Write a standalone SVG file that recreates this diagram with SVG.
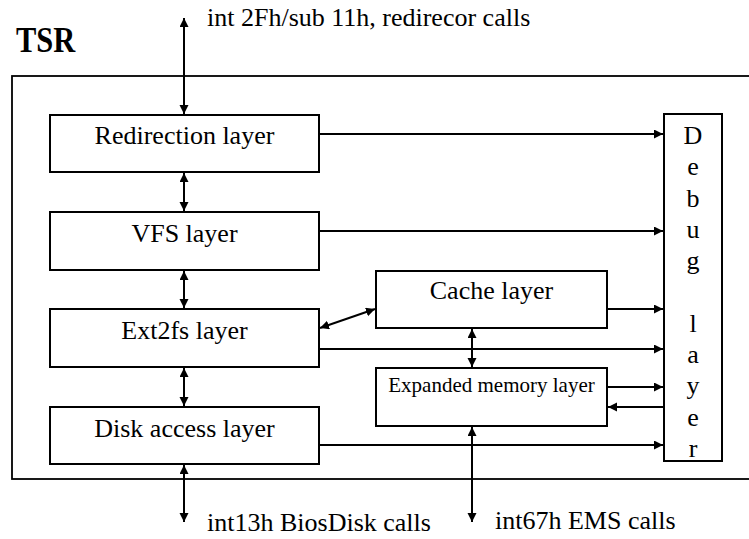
<svg xmlns="http://www.w3.org/2000/svg" width="749" height="539" viewBox="0 0 749 539">
  <style>
    .box { fill: #ffffff; stroke: #000000; stroke-width: 2; }
    .frame { fill: none; stroke: #000000; stroke-width: 1.8; }
    .lbl { font-family: "Liberation Serif", "Times New Roman", serif; font-size: 26px; fill: #000000; }
    .mid { text-anchor: middle; }
    .small { font-size: 21px; }
    .conn line { stroke: #000000; stroke-width: 2; }
    .one { marker-end: url(#head); }
    .two { marker-start: url(#head); marker-end: url(#head); }
  </style>
  <defs>
    <marker id="head" markerUnits="userSpaceOnUse" markerWidth="10" markerHeight="10" refX="9" refY="4.5" orient="auto-start-reverse">
      <path d="M0,0 L9,4.5 L0,9 z" fill="#000000"/>
    </marker>
  </defs>

  <!-- TSR frame -->
  <g id="tsr">
    <rect class="frame" x="12" y="76" width="750" height="403"/>
    <text transform="translate(16,52) scale(0.87,1)" font-family="Liberation Serif, Times New Roman, serif" font-size="35" font-weight="bold">TSR</text>
  </g>

  <!-- external interfaces -->
  <text class="lbl" x="207" y="26">int 2Fh/sub 11h, redirecor calls</text>
  <text class="lbl" x="207" y="531">int13h BiosDisk calls</text>
  <text class="lbl" x="495" y="529">int67h EMS calls</text>

  <!-- layers -->
  <g id="redirection">
    <rect class="box" x="50" y="115" width="269" height="57"/>
    <text class="lbl mid" x="184.5" y="144">Redirection layer</text>
  </g>
  <g id="vfs">
    <rect class="box" x="50" y="212" width="269" height="58"/>
    <text class="lbl mid" x="184.5" y="241.5">VFS layer</text>
  </g>
  <g id="ext2fs">
    <rect class="box" x="50" y="309" width="269" height="58"/>
    <text class="lbl mid" x="184.5" y="339">Ext2fs layer</text>
  </g>
  <g id="disk">
    <rect class="box" x="50" y="407" width="269" height="57"/>
    <text class="lbl mid" x="184.5" y="436.5">Disk access layer</text>
  </g>
  <g id="cache">
    <rect class="box" x="376" y="271" width="231" height="57"/>
    <text class="lbl mid" x="491.5" y="298.5">Cache layer</text>
  </g>
  <g id="ems">
    <rect class="box" x="376" y="368" width="231" height="58"/>
    <text class="lbl mid small" x="491.5" y="391.5">Expanded memory layer</text>
  </g>
  <g id="debug">
    <rect class="box" x="664" y="114" width="58" height="347"/>
    <text class="lbl mid" x="693" y="144">D</text>
    <text class="lbl mid" x="693" y="175.3">e</text>
    <text class="lbl mid" x="693" y="206.6">b</text>
    <text class="lbl mid" x="693" y="237.9">u</text>
    <text class="lbl mid" x="693" y="269.2">g</text>
    <text class="lbl mid" x="693" y="331.8">l</text>
    <text class="lbl mid" x="693" y="363.1">a</text>
    <text class="lbl mid" x="693" y="394.4">y</text>
    <text class="lbl mid" x="693" y="425.7">e</text>
    <text class="lbl mid" x="693" y="457">r</text>
  </g>

  <!-- connectors -->
  <g id="connectors" class="conn">
    <!-- vertical stack -->
    <line class="two" x1="184" y1="18" x2="184" y2="114"/>
    <line class="two" x1="184" y1="173" x2="184" y2="211"/>
    <line class="two" x1="184" y1="271" x2="184" y2="308"/>
    <line class="two" x1="184" y1="368" x2="184" y2="406"/>
    <line class="two" x1="184" y1="465" x2="184" y2="522"/>
    <!-- cache / ems -->
    <line class="two" x1="320" y1="328" x2="375" y2="309"/>
    <line class="two" x1="472" y1="329" x2="472" y2="367"/>
    <line class="two" x1="472" y1="427" x2="472" y2="522"/>
    <!-- debug taps -->
    <line class="one" x1="320" y1="134" x2="663" y2="134"/>
    <line class="one" x1="320" y1="231" x2="663" y2="231"/>
    <line class="one" x1="608" y1="309" x2="663" y2="309"/>
    <line class="one" x1="320" y1="349" x2="663" y2="349"/>
    <line class="one" x1="608" y1="387" x2="663" y2="387"/>
    <line class="one" x1="663" y1="407" x2="608" y2="407"/>
    <line class="one" x1="320" y1="445" x2="663" y2="445"/>
  </g>
</svg>
